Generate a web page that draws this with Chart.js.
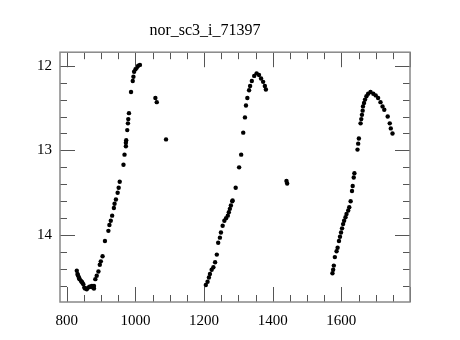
<!DOCTYPE html>
<html>
<head>
<meta charset="utf-8">
<script src="https://cdn.jsdelivr.net/npm/chart.js@4/dist/chart.umd.min.js"></script>
<style>
  html, body { margin: 0; padding: 0; background: #fff; }
  #wrap { width: 460px; height: 340px; }
</style>
</head>
<body>
<div id="wrap"><canvas id="lc"></canvas></div>
<script>
/* light curve points */
const chartTitle = "nor_sc3_i_71397";

const days = [
  829, 831, 832, 834, 836, 837, 841, 843, 845, 848, 851, 853, 858, 862, 866, 869, 873, 876, 879, 879,
  883, 887, 892, 896, 899, 904, 911, 921, 924, 928, 932, 937, 939, 943, 948, 951, 954, 965, 968,
  972, 972, 973, 976, 978, 979, 981, 987, 992, 994, 996, 1000, 1004, 1008, 1013,
  1058, 1062, 1089,
  1205, 1210, 1214, 1217, 1222, 1227, 1232, 1237, 1241, 1246, 1249, 1254, 1259, 1264, 1269, 1272,
  1275, 1278, 1282, 1283, 1292, 1302, 1308, 1314, 1319, 1322, 1326, 1331, 1334, 1339, 1346, 1353,
  1360, 1366, 1372, 1377, 1380,
  1440, 1442,
  1574, 1576, 1578, 1581, 1586, 1589, 1593, 1596, 1599, 1602, 1605, 1608, 1612, 1615, 1620, 1623,
  1627, 1631, 1633, 1636, 1638, 1647, 1649, 1651, 1656, 1658, 1660, 1662, 1663, 1666, 1669, 1673,
  1678, 1685, 1693, 1700, 1707, 1714, 1720, 1725, 1735, 1741, 1744, 1749
];

const mags = [
  14.42, 14.46, 14.47, 14.49, 14.51, 14.52, 14.54, 14.55, 14.56, 14.58, 14.62, 14.63, 14.64, 14.62, 14.61, 14.61, 14.60, 14.62, 14.60, 14.63,
  14.52, 14.48, 14.43, 14.35, 14.31, 14.25, 14.07, 13.95, 13.88, 13.83, 13.77, 13.68, 13.63, 13.58, 13.50, 13.44, 13.37, 13.17, 13.05,
  12.95, 12.91, 12.88, 12.76, 12.68, 12.63, 12.56, 12.31, 12.18, 12.13, 12.07, 12.04, 12.02, 12.00, 11.99,
  12.38, 12.43, 12.87,
  14.59, 14.55, 14.50, 14.46, 14.41, 14.38, 14.32, 14.23, 14.09, 14.03, 13.97, 13.89, 13.83, 13.80, 13.77, 13.73,
  13.69, 13.65, 13.60, 13.59, 13.44, 13.20, 13.05, 12.79, 12.61, 12.47, 12.38, 12.29, 12.24, 12.18, 12.12, 12.09,
  12.11, 12.15, 12.19, 12.24, 12.28,
  13.36, 13.39,
  14.45, 14.41, 14.36, 14.26, 14.19, 14.15, 14.07, 14.02, 13.97, 13.92, 13.87, 13.83, 13.79, 13.75, 13.71, 13.67,
  13.60, 13.48, 13.42, 13.32, 13.27, 12.99, 12.92, 12.86, 12.68, 12.63, 12.58, 12.53, 12.48, 12.44, 12.40, 12.36,
  12.33, 12.31, 12.33, 12.35, 12.38, 12.43, 12.48, 12.52, 12.60, 12.68, 12.74, 12.80
];

const xMajor = [800, 1000, 1200, 1400, 1600];
const yMajor = [12, 13, 14];

const points = days.map((d, i) => ({x: d, y: mags[i]}));

/* ============================================
   FRAME + INWARD TICKS ON ALL FOUR SIDES
============================================ */
const frameTicks = {
  id: "frameTicks",
  afterDatasetsDraw(chart){
    const ctx = chart.ctx;
    const a = chart.chartArea;
    const xs = chart.scales.x, ys = chart.scales.y;
    ctx.save();
    ctx.strokeStyle = "#555";
    ctx.lineWidth = 1;
    ctx.beginPath();
    for(let v = 800; v <= xs.max; v += 50){
      const px = Math.round(xs.getPixelForValue(v)) + 0.5;
      const len = (v % 200 === 0) ? 15 : 7;
      ctx.moveTo(px, a.bottom); ctx.lineTo(px, a.bottom - len);
      ctx.moveTo(px, a.top); ctx.lineTo(px, a.top + len);
    }
    for(let v = 12; v <= ys.max + 1e-9; v = Math.round((v + 0.2) * 10) / 10){
      const py = Math.round(ys.getPixelForValue(v)) + 0.5;
      const len = (Math.abs(v - Math.round(v)) < 1e-6) ? 15 : 7;
      ctx.moveTo(a.left, py); ctx.lineTo(a.left + len, py);
      ctx.moveTo(a.right, py); ctx.lineTo(a.right - len, py);
    }
    ctx.stroke();
    ctx.strokeStyle = "#888";
    ctx.lineWidth = 1.5;
    ctx.strokeRect(a.left, a.top, a.right - a.left, a.bottom - a.top);
    ctx.restore();
  }
};

const serif = "'Liberation Serif', 'DejaVu Serif', serif";

new Chart(document.getElementById("lc").getContext("2d"), {
  type: "scatter",
  data: {
    datasets: [{
      data: points,
      backgroundColor: "#000",
      borderColor: "#000",
      pointRadius: 2.2,
      pointBorderWidth: 0
    }]
  },
  options: {
    responsive: true,
    maintainAspectRatio: false,
    animation: false,
    layout: { padding: { left: 0, right: 50, top: 0, bottom: 0 } },
    plugins: {
      legend: { display: false },
      tooltip: { enabled: false },
      title: {
        display: true,
        text: chartTitle,
        color: "#000",
        font: { family: serif, size: 16, weight: "normal" },
        padding: { top: 21, bottom: 12 }
      }
    },
    scales: {
      x: {
        type: "linear",
        min: 780, max: 1800,
        afterFit: s => { s.height = 38; },
        afterBuildTicks: s => { s.ticks = xMajor.map(v => ({value: v})); },
        grid: { display: false, drawTicks: false },
        border: { display: false },
        ticks: { color: "#000", padding: 10, maxRotation: 0, font: { family: serif, size: 15 },
                 callback: v => String(v) }
      },
      y: {
        type: "linear",
        reverse: true,
        min: 11.84, max: 14.79,
        afterFit: s => { s.width = 60; },
        afterBuildTicks: s => { s.ticks = yMajor.map(v => ({value: v})); },
        grid: { display: false, drawTicks: false },
        border: { display: false },
        ticks: { color: "#000", padding: 8, font: { family: serif, size: 15 },
                 callback: v => String(v) }
      }
    }
  },
  plugins: [frameTicks]
});
</script>
</body>
</html>
